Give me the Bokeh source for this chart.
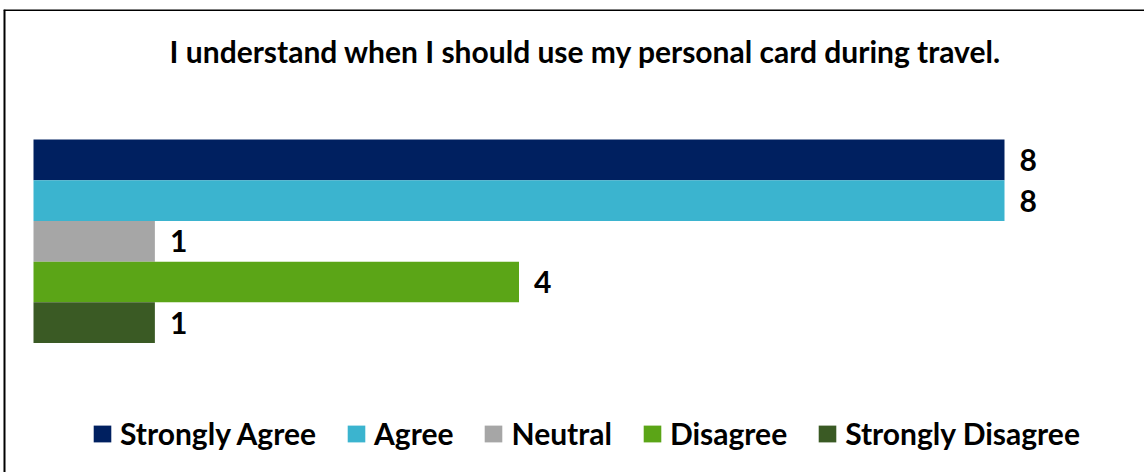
from bokeh.plotting import figure
from bokeh.models import ColumnDataSource, Range1d, Label, Legend, LegendItem, Span
from bokeh.core.properties import value
from bokeh.embed import file_html
from bokeh.resources import INLINE

# ---- data ----
title_text = "I understand when I should use my personal card during travel."
categories = ["Strongly Agree", "Agree", "Neutral", "Disagree", "Strongly Disagree"]
counts = [8, 8, 1, 4, 1]
colors = ["#002060", "#3BB4CF", "#A6A6A6", "#5BA517", "#3A5A24"]

FONT = "Lato"
FS = "30px"

W, H = 1144, 472
LEFT, TOP = 3, 9
fw, fh = W - LEFT, H - TOP

# layout: x=0 at 33px, x=8 at 1004px (canvas)
xs = 971 / 8.0
x0 = -(33 - LEFT) / xs
# y: category index, first bar centre at 159.4px from canvas top, 40.7px per bar
ys = 40.7
y_top = -(159.4 - TOP) / ys
y_bot = y_top + fh / ys

p = figure(width=W, height=H, output_backend="svg", toolbar_location=None,
           x_range=Range1d(x0, x0 + fw / xs), y_range=Range1d(y_bot, y_top),
           min_border_left=LEFT, min_border_top=TOP, min_border_right=0, min_border_bottom=0)
p.axis.visible = False
p.grid.visible = False
p.outline_line_color = None
p.background_fill_color = "white"
p.border_fill_color = "white"

items = []
for i, (cat, c, col) in enumerate(zip(categories, counts, colors)):
    src = ColumnDataSource(dict(y=[i], right=[c], label=[str(c)]))
    r = p.hbar(y="y", right="right", left=0, height=1.0, source=src,
               fill_color=col, line_color=None)
    p.text(x="right", y="y", text="label", source=src, x_offset=15,
           text_baseline="middle", text_align="left",
           text_font=value(FONT), text_font_style="bold", text_font_size=FS,
           text_color="black")
    items.append(LegendItem(label=cat, renderers=[r]))

legend = Legend(items=items, orientation="horizontal", location=(91 - LEFT, 21),
                glyph_width=22, glyph_height=21, label_height=21, label_standoff=7,
                spacing=29, padding=0, margin=0, border_line_color=None,
                background_fill_alpha=0,
                label_text_font=FONT, label_text_font_style="bold",
                label_text_font_size=FS, label_text_color="black")
p.add_layout(legend, "center")

p.add_layout(Label(x=582, y=H - 50, x_units="screen", y_units="screen",
                   text=title_text, text_align="center", text_baseline="middle",
                   text_font=FONT, text_font_style="bold", text_font_size=FS,
                   text_color="black"))

# chart border (left and top edge of frame)
p.add_layout(Span(location=p.x_range.start, dimension="height", line_color="black", line_width=4))
p.add_layout(Span(location=p.y_range.end, dimension="width", line_color="black", line_width=3))

open("out.html", "w").write(file_html(p, INLINE))
